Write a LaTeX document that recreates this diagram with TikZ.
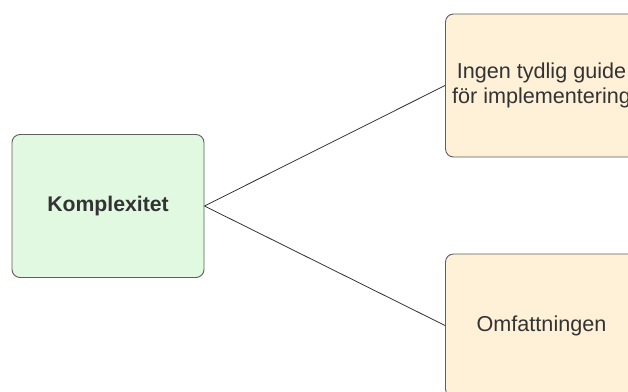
\documentclass[tikz,border=0pt]{standalone}
\usepackage{fontspec}
\setmainfont{Liberation Sans}
\definecolor{boxline}{HTML}{5E5E5E}
\definecolor{txt}{HTML}{333333}
\definecolor{greenfill}{HTML}{E1F8E1}
\definecolor{peachfill}{HTML}{FFF0D8}
\tikzset{
  card/.style={draw=boxline, line width=0.9pt, rounded corners=8pt,
    minimum width=192pt, minimum height=143pt, inner sep=0pt,
    text=txt, align=center, font=\fontsize{21.6}{25.5}\selectfont},
  rootcard/.style={card, fill=greenfill, font=\fontsize{21.2}{25}\selectfont\bfseries},
  leafcard/.style={card, fill=peachfill},
  link/.style={draw=txt, line width=0.8pt}
}
\begin{document}
\begin{tikzpicture}[x=1pt, y=-1pt]
  \useasboundingbox (0,0) rectangle (628,391);
  \clip (0,0) rectangle (628,391);
  \node[rootcard] (root) at (108,206) {Komplexitet};
  \node[leafcard] (guide) at (541.5,85.5) {Ingen tydlig guide\\för implementering};
  \node[leafcard] (scope) at (541.5,325.5) {Omfattningen};
  \draw[link] (root.east) -- (guide.west);
  \draw[link] (root.east) -- (scope.west);
\end{tikzpicture}
\end{document}
